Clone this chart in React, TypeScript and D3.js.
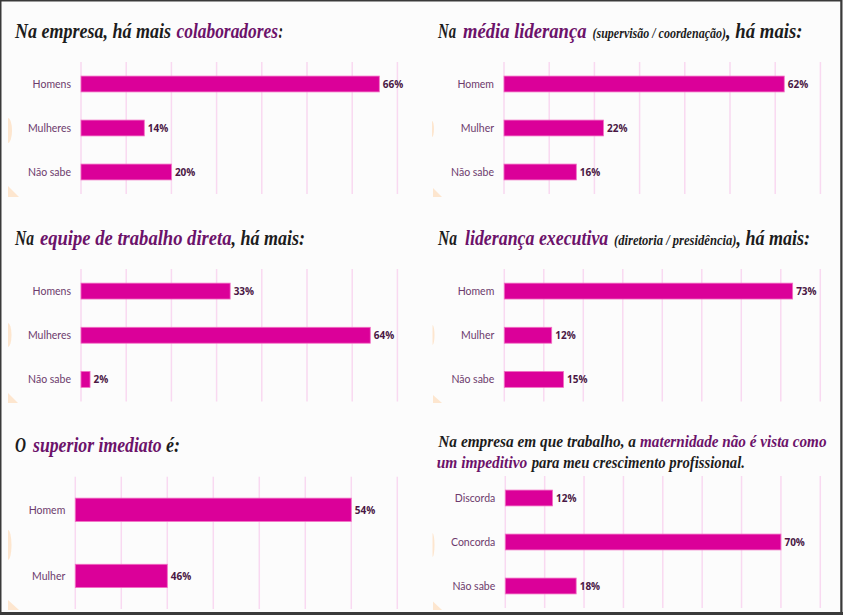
import React from "react";
import * as d3 from "d3";

// ---- data ----
const catsEmpresa = ["Homens", "Mulheres", "Não sabe"];
const valsEmpresa = [66, 14, 20];
const catsMedia = ["Homem", "Mulher", "Não sabe"];
const valsMedia = [62, 22, 16];
const catsEquipe = ["Homens", "Mulheres", "Não sabe"];
const valsEquipe = [33, 64, 2];
const catsExecutiva = ["Homem", "Mulher", "Não sabe"];
const valsExecutiva = [73, 12, 15];
const catsSuperior = ["Homem", "Mulher"];
const valsSuperior = [54, 46];
const catsMaternidade = ["Discorda", "Concorda", "Não sabe"];
const valsMaternidade = [12, 70, 18];

const W = 843;
const H = 615;
const BAR = "#db0099";
const BAR_STROKE = "#f26fc4";
const GRID = "#f9d9f1";
const CAT = "#6d3b6c";
const VAL = "#4a1744";
const DARK = "#1c1c1c";
const PURPLE = "#6c126a";
const PEACH = "#fde6cf";
const TITLE_FONT = "'Liberation Serif', serif";
const LABEL_FONT = "Lato, 'Open Sans', sans-serif";
const VALUE_FONT = "'Open Sans', 'Noto Sans', sans-serif";

type Seg = { t: string; x0: number; x1: number; c: string; fs: number };
type Line = { y: number; segs: Seg[] };

type PanelCfg = {
  cats: string[];
  vals: number[];
  domain: [number, number];
  step: number;
  x0: number;
  x1: number;
  y0: number;
  y1: number;
  title: Line[];
  deco: { ex: number; ey0: number; ey1: number; erx: number; tx: number; ty0: number; ty1: number; tw: number };
};

const panels: PanelCfg[] = [
  {
    cats: catsEmpresa, vals: valsEmpresa, domain: [0, 70], step: 10,
    x0: 81, x1: 397.4, y0: 62, y1: 194,
    title: [
      {
        y: 38,
        segs: [
          { t: "Na empresa, há mais", x0: 15, x1: 171, c: DARK, fs: 21 },
          { t: "colaboradores", x0: 176.5, x1: 278, c: PURPLE, fs: 21 },
          { t: ":", x0: 278.5, x1: 283, c: DARK, fs: 21 },
        ],
      },
    ],
    deco: { ex: 8, ey0: 118, ey1: 143, erx: 4, tx: 8, ty0: 186, ty1: 197, tw: 11 },
  },
  {
    cats: catsMedia, vals: valsMedia, domain: [0, 70], step: 10,
    x0: 504, x1: 820.4, y0: 62, y1: 194,
    title: [
      {
        y: 38,
        segs: [
          { t: "Na", x0: 438, x1: 456, c: DARK, fs: 21 },
          { t: "média liderança", x0: 463, x1: 586.5, c: PURPLE, fs: 21 },
          { t: "(supervisão / coordenação)", x0: 592.5, x1: 726, c: DARK, fs: 14 },
          { t: ", há mais:", x0: 726, x1: 802.5, c: DARK, fs: 21 },
        ],
      },
    ],
    deco: { ex: 432, ey0: 121, ey1: 137, erx: 2, tx: 433, ty0: 188, ty1: 197, tw: 9 },
  },
  {
    cats: catsEquipe, vals: valsEquipe, domain: [0, 70], step: 10,
    x0: 81, x1: 397.4, y0: 269, y1: 401.5,
    title: [
      {
        y: 245,
        segs: [
          { t: "Na", x0: 15, x1: 34, c: DARK, fs: 21 },
          { t: "equipe de trabalho direta", x0: 40, x1: 231.5, c: PURPLE, fs: 21 },
          { t: ", há mais:", x0: 231.5, x1: 305, c: DARK, fs: 21 },
        ],
      },
    ],
    deco: { ex: 8, ey0: 323, ey1: 347, erx: 3.5, tx: 8, ty0: 393, ty1: 403, tw: 10 },
  },
  {
    cats: catsExecutiva, vals: valsExecutiva, domain: [0, 80], step: 10,
    x0: 504.3, x1: 820.3, y0: 269, y1: 401.5,
    title: [
      {
        y: 245,
        segs: [
          { t: "Na", x0: 438, x1: 457, c: DARK, fs: 21 },
          { t: "liderança executiva", x0: 465, x1: 608.3, c: PURPLE, fs: 21 },
          { t: "(diretoria / presidência)", x0: 614, x1: 736.5, c: DARK, fs: 14 },
          { t: ", há mais:", x0: 736.5, x1: 810, c: DARK, fs: 21 },
        ],
      },
    ],
    deco: { ex: 432.5, ey0: 325, ey1: 345, erx: 2, tx: 433, ty0: 395, ty1: 403, tw: 9 },
  },
  {
    cats: catsSuperior, vals: valsSuperior, domain: [42, 56], step: 2,
    x0: 75.3, x1: 397.3, y0: 476.7, y1: 609,
    title: [
      {
        y: 451.5,
        segs: [
          { t: "O", x0: 15, x1: 26, c: DARK, fs: 21 },
          { t: "superior imediato", x0: 33, x1: 161.5, c: PURPLE, fs: 21 },
          { t: "é:", x0: 166, x1: 180, c: DARK, fs: 21 },
        ],
      },
    ],
    deco: { ex: 8, ey0: 530, ey1: 560, erx: 3.5, tx: 8, ty0: 600, ty1: 610, tw: 11 },
  },
  {
    cats: catsMaternidade, vals: valsMaternidade, domain: [0, 80], step: 10,
    x0: 505.3, x1: 820.3, y0: 476, y1: 608,
    title: [
      {
        y: 446.5,
        segs: [
          { t: "Na empresa em que trabalho, a", x0: 438.3, x1: 636, c: DARK, fs: 17 },
          { t: "maternidade não é vista como", x0: 640, x1: 826.5, c: PURPLE, fs: 17 },
        ],
      },
      {
        y: 468.3,
        segs: [
          { t: "um impeditivo", x0: 436.7, x1: 527.3, c: PURPLE, fs: 17 },
          { t: "para meu crescimento profissional.", x0: 531.7, x1: 745, c: DARK, fs: 17 },
        ],
      },
    ],
    deco: { ex: 432.5, ey0: 533, ey1: 557, erx: 2, tx: 433, ty0: 601.5, ty1: 610, tw: 9 },
  },
];

function Panel({ p }: { p: PanelCfg }) {
  const x = d3.scaleLinear().domain(p.domain).range([p.x0, p.x1]);
  const n = p.cats.length;
  const pi = n === 2 ? 0.648 : 0.64;
  const y = d3
    .scaleBand<string>()
    .domain(p.cats)
    .range([p.y0, p.y1])
    .paddingInner(pi)
    .paddingOuter(pi / 2);
  const ticks = d3.range(p.domain[0], p.domain[1] + 0.001, p.step);
  const d = p.deco;
  const er = (d.ey1 - d.ey0) / 2;
  return (
    <g>
      <path d={`M${d.ex},${d.ey0} A${d.erx},${er} 0 0 1 ${d.ex},${d.ey1} Z`} fill={PEACH} />
      <path d={`M${d.tx},${d.ty0} L${d.tx},${d.ty1} L${d.tx + d.tw},${d.ty1} Z`} fill={PEACH} />
      {p.title.map((ln, li) => (
        <text
          key={li}
          y={ln.y}
          fontFamily={TITLE_FONT}
          fontStyle="italic"
          fontWeight={700}
        >
          {ln.segs.map((s, i) => (
            <tspan
              key={i}
              x={s.x0}
              fontSize={s.fs}
              fill={s.c}
              textLength={s.x1 - s.x0}
              lengthAdjust="spacingAndGlyphs"
            >
              {s.t}
            </tspan>
          ))}
        </text>
      ))}
      {ticks.map((t) => (
        <line key={t} x1={x(t)} x2={x(t)} y1={p.y0} y2={p.y1} stroke={GRID} strokeWidth={1.5} />
      ))}
      {p.cats.map((c, i) => {
        const by = y(c)!;
        const bw = y.bandwidth();
        const xe = x(p.vals[i]);
        return (
          <g key={c}>
            <text
              x={p.x0 - 10}
              y={by + bw / 2}
              textAnchor="end"
              dominantBaseline="central"
              fontFamily={LABEL_FONT}
              fontSize={10.5}
              fill={CAT}
            >
              {c}
            </text>
            <rect
              x={p.x0}
              y={by}
              width={xe - p.x0}
              height={bw}
              fill={BAR}
              stroke={BAR_STROKE}
              strokeWidth={0.8}
            />
            <text
              x={xe + 3.5}
              y={by + bw / 2}
              dominantBaseline="central"
              fontFamily={VALUE_FONT}
              fontWeight={700}
              fontSize={10}
              fill={VAL}
            >
              {p.vals[i]}%
            </text>
          </g>
        );
      })}
    </g>
  );
}

export default function App() {
  return (
    <div style={{ position: "absolute", left: 0, top: 0, width: W, height: H }}>
      <svg width={W} height={H} style={{ display: "block" }}>
        <rect x={0} y={0} width={W} height={H} fill="#fcfcfc" />
        {panels.map((p, i) => (
          <Panel key={i} p={p} />
        ))}
        <rect x={0.75} y={0.75} width={W - 2.5} height={H - 3} fill="none" stroke="#3a3a3a" strokeWidth={1.5} />
        <line x1={0} x2={W} y1={H - 1.5} y2={H - 1.5} stroke="#3a3a3a" strokeWidth={3} />
        <line x1={W - 1.5} x2={W - 1.5} y1={0} y2={H} stroke="#3a3a3a" strokeWidth={2} />
      </svg>
    </div>
  );
}
